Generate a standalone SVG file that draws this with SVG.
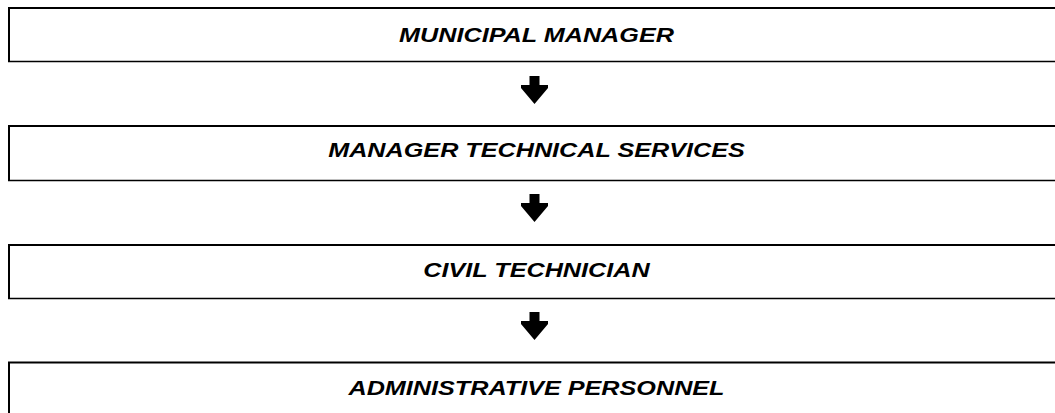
<svg xmlns="http://www.w3.org/2000/svg" width="1055" height="413" viewBox="0 0 1055 413">
  <style>
    .edge { fill: none; stroke: #000; stroke-width: 2; }
    .base { fill: none; stroke: #000; stroke-width: 1.4; }
    .label { font-family: "Liberation Sans", Arial, sans-serif; font-weight: bold; font-style: italic; font-size: 21px; fill: #000; text-anchor: middle; }
    .arrow { fill: #000; stroke: none; }
  </style>
  <defs>
    <!-- bold down arrow, origin at the top of the shaft -->
    <polygon id="down" points="-5,0 5,0 5,9 13.5,9 13.5,12 0,28 -13.5,12 -13.5,9 -5,9"/>
  </defs>
  <rect width="1055" height="413" fill="#fff"/>

  <g id="municipal-manager">
    <path class="edge" d="M9,61.5 V8 H1055"/>
    <path class="base" d="M8,61.5 H1055"/>
    <text class="label" transform="translate(536.5,42) scale(1.2,1)">MUNICIPAL MANAGER</text>
  </g>

  <g id="manager-technical-services">
    <path class="edge" d="M9,180.5 V126 H1055"/>
    <path class="base" d="M8,180.5 H1055"/>
    <text class="label" transform="translate(536.5,157) scale(1.2,1)">MANAGER TECHNICAL SERVICES</text>
  </g>

  <g id="civil-technician">
    <path class="edge" d="M9,298.5 V245 H1055"/>
    <path class="base" d="M8,298.5 H1055"/>
    <text class="label" transform="translate(536.5,277) scale(1.2,1)">CIVIL TECHNICIAN</text>
  </g>

  <g id="administrative-personnel">
    <path class="edge" d="M9,413 V362.5 H1055"/>
    <text class="label" transform="translate(536.5,395) scale(1.2,1)">ADMINISTRATIVE PERSONNEL</text>
  </g>

  <g id="connectors">
    <use href="#down" class="arrow" x="534.5" y="76"/>
    <use href="#down" class="arrow" x="534.5" y="194"/>
    <use href="#down" class="arrow" x="534.5" y="312"/>
  </g>
</svg>
